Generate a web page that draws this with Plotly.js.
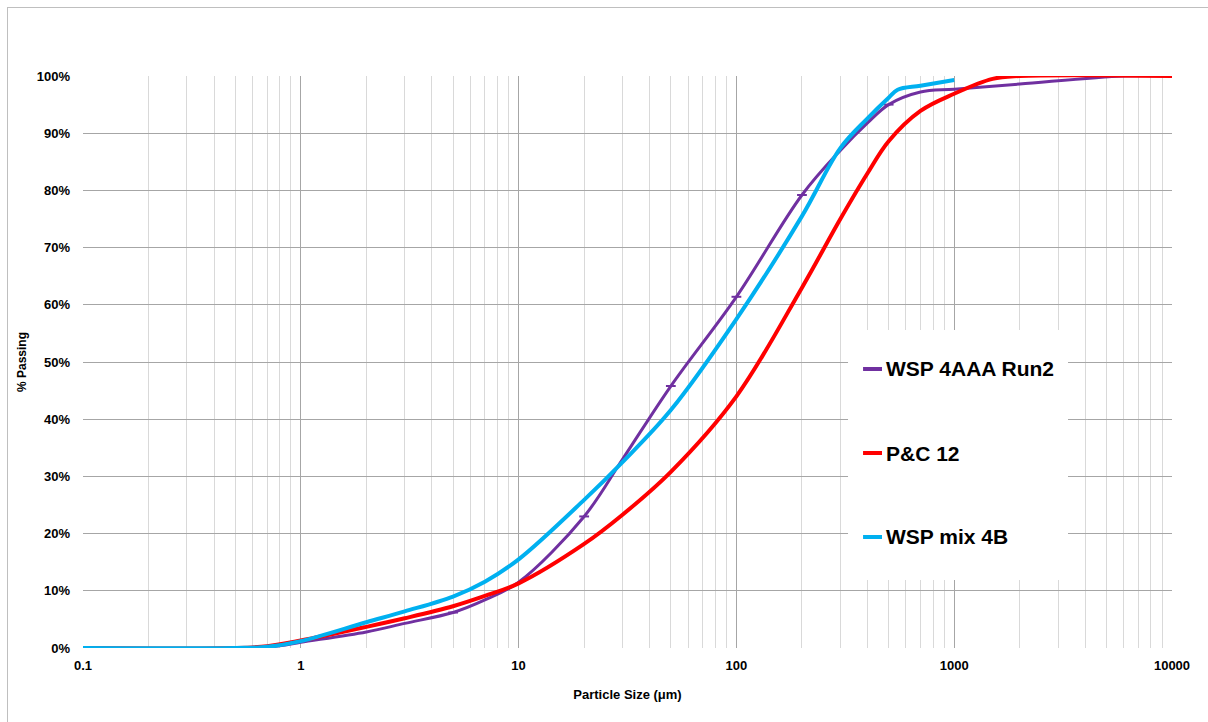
<!DOCTYPE html>
<html>
<head>
<meta charset="utf-8">
<script src="https://cdn.plot.ly/plotly-3.0.1.min.js"></script>
<style>
html,body{margin:0;padding:0;background:#fff;}
#frame{position:absolute;left:7px;top:7px;width:1210px;height:720px;border:1px solid #bfbfbf;box-sizing:border-box;pointer-events:none;z-index:5;}
#chart{position:absolute;left:0;top:0;width:1208px;height:722px;}
</style>
</head>
<body>
<div id="chart"></div>
<div id="frame"></div>
<script>
// Particle size (µm) and % passing
const purpleX = [0.1, 0.5, 0.8, 1, 2, 3, 5, 7, 10, 20, 30, 50, 100, 200, 300, 400, 500, 700, 1000, 2000, 6000, 10000];
const purpleY = [0, 0, 0.4, 1.0, 2.8, 4.3, 6.2, 8.4, 11.5, 23, 33, 45.8, 61.4, 79.2, 87, 91.8, 95, 97.2, 97.7, 98.6, 100, 100];
const purpleMarkX = [0.1, 0.5, 5, 20, 50, 100, 200, 500, 2000, 6000, 10000];
const purpleMarkY = [0, 0, 6.2, 23, 45.8, 61.4, 79.2, 95, 98.6, 100, 100];

const redX = [0.1, 0.5, 0.7, 1, 2, 3, 5, 7, 10, 20, 30, 50, 100, 200, 300, 400, 500, 700, 1000, 1500, 2000, 10000];
const redY = [0, 0, 0.3, 1.3, 3.7, 5.2, 7.3, 9.1, 11.3, 18.2, 23.3, 30.8, 44, 63, 75, 83, 88.6, 93.9, 96.9, 99.5, 100, 100];

const blueX = [0.1, 0.5, 0.7, 1, 2, 3, 5, 7, 10, 20, 30, 50, 100, 200, 300, 400, 500, 550, 700, 1000];
const blueY = [0, 0, 0.2, 1.2, 4.5, 6.4, 9, 11.6, 15.5, 25.9, 32.5, 41.6, 57.5, 75.5, 87.4, 92.6, 96.2, 97.6, 98.3, 99.3];

const seriesNames = ["WSP 4AAA Run2", "P&C 12", "WSP mix 4B"];
const seriesColors = ["#7030a0", "#ff0000", "#00b0f0"];
const xTickVals = [0.1, 1, 10, 100, 1000, 10000];
const xTickText = ["0.1", "1", "10", "100", "1000", "10000"];
const yTickVals = [0, 10, 20, 30, 40, 50, 60, 70, 80, 90, 100];
const yTickText = ["0%", "10%", "20%", "30%", "40%", "50%", "60%", "70%", "80%", "90%", "100%"];

const minorVals = [];
for (let d = -1; d < 4; d++) for (let m = 2; m <= 9; m++) minorVals.push(m * Math.pow(10, d));

const FONT = "Liberation Sans, Arial, sans-serif";

const traces = [
  {x: purpleX, y: purpleY, name: seriesNames[0], mode: "lines",
   line: {color: seriesColors[0], width: 3, shape: "spline", smoothing: 1}},
  {x: purpleMarkX, y: purpleMarkY, name: seriesNames[0], mode: "markers",
   marker: {symbol: "line-ew-open", size: 7, color: seriesColors[0], line: {color: seriesColors[0], width: 2}}},
  {x: redX, y: redY, name: seriesNames[1], mode: "lines",
   line: {color: seriesColors[1], width: 4, shape: "spline", smoothing: 1}},
  {x: blueX, y: blueY, name: seriesNames[2], mode: "lines",
   line: {color: seriesColors[2], width: 4, shape: "spline", smoothing: 1}}
];

// manual legend (paper coordinates)
const legendRows = [0.4878, 0.3409, 0.1941];
const shapes = [
  {type: "rect", xref: "paper", yref: "paper", x0: 0.7025, x1: 0.9045, y0: 0.1189, y1: 0.556,
   fillcolor: "#ffffff", line: {width: 0}, layer: "above"}
];
const annotations = [];
seriesNames.forEach((n, i) => {
  shapes.push({type: "line", xref: "paper", yref: "paper", x0: 0.7163, x1: 0.7337,
    y0: legendRows[i], y1: legendRows[i], line: {color: seriesColors[i], width: 4}, layer: "above"});
  annotations.push({xref: "paper", yref: "paper", x: 0.7355, y: legendRows[i], xanchor: "left", yanchor: "middle",
    text: n, showarrow: false, font: {size: 21, weight: "bold", family: FONT, color: "#000"}});
});

const layout = {
  width: 1208, height: 722,
  margin: {l: 83, r: 36, t: 76, b: 74},
  paper_bgcolor: "rgba(0,0,0,0)", plot_bgcolor: "#fff",
  font: {family: FONT, color: "#000"},
  showlegend: false,
  xaxis: {type: "log", range: [-1, 4], tickmode: "array", tickvals: xTickVals, ticktext: xTickText,
    showgrid: true, gridcolor: "#a6a6a6", gridwidth: 1, zeroline: false, showline: false, ticks: "",
    ticklabelstandoff: 8,
    tickfont: {size: 13, weight: "bold", family: FONT},
    minor: {tickmode: "array", tickvals: minorVals, showgrid: true, gridcolor: "#d9d9d9", gridwidth: 1, ticks: ""},
    title: {text: "Particle Size (μm)", font: {size: 13, weight: "bold", family: FONT}, standoff: 17}},
  yaxis: {range: [0, 100], tickmode: "array", tickvals: yTickVals, ticktext: yTickText,
    showgrid: true, gridcolor: "#a6a6a6", gridwidth: 1, zeroline: false, showline: false, ticks: "",
    ticklabelstandoff: 12,
    tickfont: {size: 13, weight: "bold", family: FONT},
    title: {text: "% Passing", font: {size: 12, weight: "bold", family: FONT}, standoff: 7}},
  shapes: shapes,
  annotations: annotations
};

Plotly.newPlot("chart", traces, layout, {displayModeBar: false, staticPlot: true});
</script>
</body>
</html>
